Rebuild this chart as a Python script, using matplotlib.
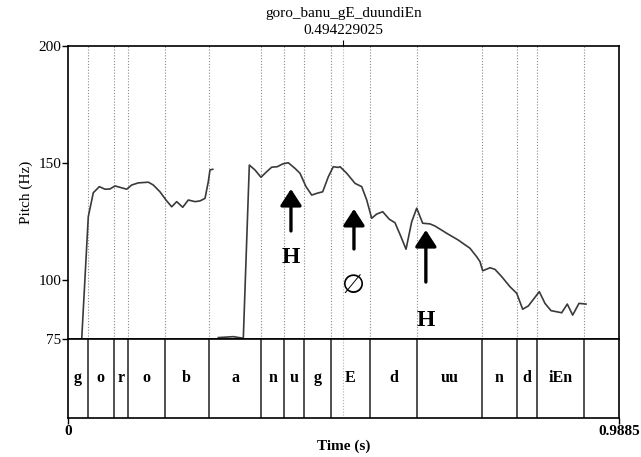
import numpy as np
import matplotlib
matplotlib.use("Agg")
import matplotlib.pyplot as plt

plt.rcParams['font.family'] = ['Liberation Serif', 'DejaVu Serif']

# pitch track (two voiced stretches)
t1 = [0.0246, 0.0364, 0.0454, 0.0562, 0.0664, 0.0753, 0.0843, 0.0963, 0.1053,
      0.1143, 0.1261, 0.1441, 0.1530, 0.1650, 0.1758, 0.1860, 0.1950, 0.2058,
      0.2158, 0.2278, 0.2368, 0.2458, 0.2517, 0.2547, 0.2596]
f1 = [75.0, 127.2, 137.4, 140.0, 138.9, 139.0, 140.3, 139.5, 138.9,
      140.7, 141.6, 141.9, 140.7, 137.8, 134.3, 131.4, 133.6, 131.2,
      134.3, 133.6, 133.9, 135.0, 142.1, 147.1, 147.4]
t2 = [0.2696, 0.2966, 0.3145, 0.3253, 0.3355, 0.3462, 0.3565, 0.3654, 0.3755,
      0.3852, 0.3952, 0.4072, 0.4162, 0.4270, 0.4372, 0.4472, 0.4569, 0.4670,
      0.4759, 0.4849, 0.4880, 0.5000, 0.5149, 0.5269, 0.5359, 0.5448, 0.5538,
      0.5646, 0.5764, 0.5866, 0.5969, 0.6064, 0.6166, 0.6256, 0.6363, 0.6494,
      0.6584, 0.6794, 0.7002, 0.7212, 0.7332, 0.7391, 0.7440, 0.7571, 0.7660,
      0.7781, 0.7929, 0.8050, 0.8157, 0.8258, 0.8378, 0.8455, 0.8557, 0.8665,
      0.8857, 0.8957, 0.9054, 0.9167, 0.9293]
f2 = [75.6, 76.0, 75.3, 149.2, 147.1, 144.0, 146.4, 148.3, 148.5,
      149.7, 150.2, 147.8, 145.7, 140.0, 136.4, 137.2, 137.8, 144.2,
      148.5, 148.2, 148.5, 145.7, 141.4, 140.0, 134.3, 126.5, 128.3,
      129.3, 126.1, 124.6, 118.9, 113.3, 125.0, 130.8, 124.4, 124.1,
      123.2, 120.1, 117.2, 113.7, 110.1, 108.0, 104.1, 105.4, 104.7,
      101.6, 97.3, 94.5, 87.7, 89.1, 92.8, 95.2, 90.2, 87.1,
      86.2, 89.9, 85.2, 90.2, 89.9]

# segment tier
boundaries = [0.0357, 0.0818, 0.1075, 0.1733, 0.2522, 0.3470, 0.3870, 0.4230,
              0.4725, 0.5410, 0.6270, 0.7420, 0.8060, 0.8420, 0.9250]
segments = ['g', 'o', 'r', 'o', 'b', 'a', 'n', 'u', 'g', 'E', 'd', 'uu',
            'n', 'd', 'iEn', '']

t_end = 0.9885
cursor = 0.494229025
title = 'goro_banu_gE_duundiEn'
y_ticks = [75, 100, 150, 200]

# arrows: (time, tail Hz, tip Hz, label, label Hz)
arrows = [(0.400, 121.1, 139.0, 'H', 109.6),
          (0.513, 113.4, 130.5, '\u2205', 97.2),
          (0.642, 99.3, 121.5, 'H', 83.1)]

fig = plt.figure(figsize=(6.41, 4.57), dpi=100)
ax = fig.add_axes([68 / 641, 1 - 339 / 457, 551 / 641, 293 / 457])
tier = fig.add_axes([68 / 641, 1 - 418 / 457, 551 / 641, 79 / 457])

dot = dict(color='#8a8a8a', linestyle=(0, (1, 1.6)), linewidth=0.8)

for b in boundaries:
    ax.axvline(b, **dot)
ax.axvline(cursor, color='#b0b0b0', linestyle=(0, (1, 1.6)), linewidth=0.8)

ax.plot(t1, f1, color='#3a3a3a', linewidth=1.2)
ax.plot(t2, f2, color='#3a3a3a', linewidth=1.2)

for t, tail, tip, lab, ly in arrows:
    ax.annotate('', xy=(t, tip), xytext=(t, tail),
                arrowprops=dict(arrowstyle='-|>,head_length=1.0,head_width=0.65',
                                color='black', lw=2.4, shrinkA=0, shrinkB=0))
    ax.text(t, ly, lab, ha='center', va='center',
            fontsize=17 if lab == 'H' else 19,
            fontweight='bold' if lab == 'H' else 'normal',
            family=['Liberation Serif', 'DejaVu Sans'])

ax.set_xlim(0, t_end)
ax.set_ylim(75, 200)
ax.set_yticks(y_ticks)
ax.tick_params(axis='y', labelsize=11, length=4, width=1, direction='out', pad=1)
ax.tick_params(axis='x', bottom=False, labelbottom=False, top=True,
               direction='out', length=4)
ax.set_xticks([cursor])
ax.set_xticklabels([])
ax.set_ylabel('Pitch (Hz)', fontsize=11, labelpad=4)
for s in ax.spines.values():
    s.set_linewidth(1.2)

fig.text(cursor / t_end * 551 / 641 + 68 / 641, 1 - 13 / 457, title,
         ha='center', va='center', fontsize=11)
fig.text(cursor / t_end * 551 / 641 + 68 / 641, 1 - 30 / 457, '0.494229025',
         ha='center', va='center', fontsize=11)

# tier
for b in boundaries:
    tier.axvline(b, color='#202020', linewidth=1.1)
tier.axvline(cursor, color='#b0b0b0', linestyle=(0, (1, 1.6)), linewidth=0.8)
edges = [0] + boundaries + [t_end]
for i, lab in enumerate(segments):
    tier.text((edges[i] + edges[i + 1]) / 2, 0.5, lab, ha='center', va='center',
              fontsize=11.5, fontweight='bold')
tier.set_xlim(0, t_end)
tier.set_ylim(0, 1)
tier.set_yticks([])
tier.set_xticks([0, t_end])
tier.set_xticklabels(['0', '0.9885'], fontweight='bold')
tier.tick_params(axis='x', labelsize=11, length=4, width=1, pad=1)
tier.set_xlabel('Time (s)', fontsize=11, fontweight='bold', labelpad=1)
for s in tier.spines.values():
    s.set_linewidth(1.2)

fig.savefig('out.png', dpi=100)
